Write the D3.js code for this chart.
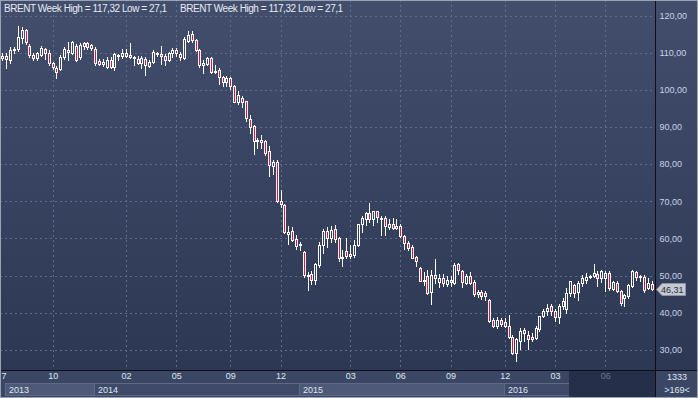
<!DOCTYPE html>
<html>
<head>
<meta charset="utf-8">
<title>brent weekly candles</title>
<style>
  body { margin: 0; background: #2d3854; }
  svg { display: block; }
  text { font-family: "Liberation Sans", Arial, sans-serif; }
</style>
</head>
<body>
<svg id="chart"></svg>
<script src="https://d3js.org/d3.v7.min.js"></script>
<script>
// weekly bars, oldest first (Jul 2013 .. Sep 2016)
let open = [108.6,109.1,108.0,110.6,111.0,113.9,116.1,111.9,109.4,108.5,
  109.5,110.9,110.0,107.2,105.8,105.6,108.9,110.2,110.0,111.8,
  108.9,111.8,112.5,111.2,110.9,107.8,106.9,106.2,108.0,106.2,
  109.0,109.0,109.2,109.4,108.9,108.3,107.1,108.3,106.5,107.4,
  109.8,109.6,109.2,108.0,109.8,110.7,109.6,108.5,113.2,114.9,
  113.4,110.7,106.7,106.9,108.5,104.7,105.4,103.4,102.2,103.1,
  100.9,96.8,97.9,97.0,92.1,90.3,86.1,86.0,86.1,83.6,
  79.6,80.5,70.0,69.1,61.1,62.1,59.8,58.6,56.2,49.8,
  50.4,48.7,52.9,58.3,61.9,60.1,62.6,60.1,54.7,56.5,
  55.9,55.6,58.3,63.9,65.3,66.8,65.3,67.3,65.3,65.5,
  63.1,63.9,62.9,63.2,60.6,58.8,57.8,54.9,52.0,48.9,
  49.8,45.5,50.2,48.2,49.3,47.8,48.2,48.0,53.0,51.1,
  48.0,49.8,48.2,44.9,45.5,45.3,43.5,38.1,36.5,38.1,
  37.5,36.5,33.5,29.2,32.3,35.3,34.1,33.4,33.2,35.5,
  39.0,40.4,41.7,40.4,38.7,41.7,40.9,45.3,47.4,45.6,
  48.0,48.8,49.5,49.8,50.4,49.2,49.2,50.7,46.5,48.0,
  45.8,44.0,44.4,47.1,51.0,49.5,49.5,46.7,47.7];
let high = [109.8,109.8,111.5,111.4,117.3,116.8,116.4,112.3,109.9,110.3,
  111.8,111.3,110.6,107.6,106.3,109.3,111.4,113.0,113.2,112.3,
  112.6,112.9,112.8,112.4,111.4,108.3,108.2,108.7,108.7,109.8,
  109.6,111.0,111.0,112.5,109.0,109.0,109.0,108.7,108.0,110.7,
  110.3,111.9,109.6,110.3,111.2,111.2,110.1,114.1,115.8,115.8,
  113.7,111.0,107.9,108.7,108.7,106.8,106.0,103.8,103.6,103.5,
  101.2,99.6,98.2,97.1,93.3,90.6,87.1,87.8,86.5,84.8,
  81.2,81.0,73.1,69.2,63.4,63.1,60.8,59.1,56.6,51.0,
  51.2,53.4,59.0,62.6,63.0,63.3,63.6,60.5,57.0,60.0,
  58.1,59.6,64.0,66.0,67.1,69.6,67.3,67.5,65.9,66.0,
  65.1,65.6,65.1,63.9,60.8,59.3,58.3,55.2,52.3,50.9,
  51.4,51.4,54.5,50.5,50.5,49.8,49.8,53.5,53.4,51.4,
  50.5,50.9,48.9,46.2,46.2,45.8,43.7,38.6,38.8,38.6,
  38.6,39.5,34.1,33.2,35.9,35.9,35.1,34.4,36.3,39.2,
  41.0,42.3,42.3,41.0,42.3,44.0,46.6,48.6,47.7,48.5,
  50.1,50.7,50.2,53.1,51.3,51.6,51.1,51.1,48.6,48.5,
  46.2,45.0,47.7,51.6,51.3,50.2,50.1,49.3,48.5];
let low = [108.0,105.9,107.3,109.8,110.4,112.5,112.4,108.9,108.0,107.9,
  109.1,108.4,106.8,105.6,103.1,105.2,108.2,108.0,109.6,107.7,
  108.4,111.0,110.9,110.6,106.8,106.6,106.3,105.8,106.0,105.4,
  108.0,108.5,108.7,108.6,106.7,106.9,105.8,104.0,106.2,107.1,
  109.0,106.9,106.7,107.8,108.7,109.2,108.0,108.3,112.8,112.9,
  110.5,106.2,104.5,106.7,104.5,104.4,101.6,101.0,101.0,100.2,
  96.6,96.3,95.5,91.7,88.3,82.6,84.2,84.3,82.4,76.7,
  77.3,69.8,68.5,61.4,58.4,59.2,57.1,57.0,49.6,46.2,
  47.7,47.6,52.2,56.0,57.8,59.0,59.0,53.9,52.5,54.7,
  54.6,55.0,57.9,61.6,63.7,64.4,63.7,64.4,61.0,61.0,
  62.5,62.5,62.5,60.3,57.2,56.8,54.6,52.5,48.5,47.5,
  44.9,42.2,48.0,46.9,47.1,47.3,47.3,47.6,50.5,47.0,
  47.6,47.6,44.4,44.2,43.7,43.5,37.4,36.2,36.0,36.3,
  36.2,33.2,28.8,27.1,30.1,32.5,30.1,32.5,32.8,35.0,
  38.8,39.5,39.5,37.8,37.3,40.9,39.9,44.4,44.2,43.3,
  47.1,48.0,49.2,49.5,47.1,48.3,45.8,46.2,46.2,45.6,
  42.0,41.7,44.0,46.8,48.9,48.4,45.6,46.5,46.2];
let close = [109.2,108.2,110.7,111.1,114.2,116.1,113.0,109.4,108.6,109.8,
  111.2,110.0,107.2,106.1,104.9,108.9,110.9,110.8,112.9,108.0,
  112.1,112.5,111.4,112.0,107.2,107.0,107.6,108.0,106.2,109.6,
  109.4,109.8,109.8,108.8,108.5,107.1,108.5,106.7,107.4,110.1,
  109.6,109.2,108.0,109.8,110.7,109.8,108.7,113.7,114.8,113.4,
  110.7,106.7,107.1,108.5,104.9,105.0,103.4,102.0,103.1,100.9,
  96.8,98.6,96.8,92.4,89.9,86.1,86.6,86.5,83.1,79.8,
  80.6,70.0,69.2,61.6,61.8,59.5,58.0,58.2,50.2,50.2,
  48.7,53.2,58.3,61.9,60.1,62.3,59.7,54.7,55.0,55.2,
  55.2,58.3,63.9,65.5,66.8,65.3,67.3,65.8,65.6,63.2,
  63.9,62.9,63.4,60.6,58.8,57.4,54.7,53.8,48.6,48.4,
  45.3,50.2,49.3,49.3,48.0,48.7,48.9,52.9,51.6,48.2,
  49.8,48.0,44.9,45.5,44.6,44.6,37.7,36.5,38.1,37.0,
  36.5,33.5,29.2,32.8,35.0,34.4,32.9,32.8,35.9,39.0,
  40.4,41.2,40.4,38.7,41.9,43.1,45.3,48.5,45.3,48.0,
  49.2,49.5,50.0,50.7,49.2,51.1,50.7,46.7,48.3,45.8,
  42.6,44.7,47.4,51.1,49.5,49.9,46.0,48.0,46.31];

let priceTicks = [30, 40, 50, 60, 70, 80, 90, 100, 110, 120];
let monthLabels = ["7", "10", "02", "05", "09", "12", "03", "06", "09", "12", "03", "06"];
let monthBars = [0.3, 13, 32, 45, 59, 72, 90, 103, 116, 130, 143, 156];
let yearLabels = ["2013", "2014", "2015", "2016"];
let yearBars = [1, 24, 77, 130];
let titleText = "BRENT Week High = 117,32 Low = 27,1";
let lastPrice = 46.31;
let barCount = "1333", visibleBars = ">169<";

let width = 698, height = 398;
let plotRight = 655, plotBottom = 370;
let fmt = d => d3.format(".2f")(d).replace(".", ",");

let svg = d3.select("#chart").attr("width", width).attr("height", height);

let defs = svg.append("defs");
let grad = defs.append("linearGradient").attr("id", "bg")
    .attr("x1", 0).attr("y1", 0).attr("x2", 0).attr("y2", 1);
grad.append("stop").attr("offset", "0%").attr("stop-color", "#424e6c");
grad.append("stop").attr("offset", "100%").attr("stop-color", "#2b3652");
svg.append("rect").attr("width", width).attr("height", height).attr("fill", "url(#bg)");

let x = d3.scaleLinear().domain([0, open.length - 1]).range([2.4, 651.5]);
let y = d3.scaleLinear().domain([30, 120]).range([349.8, 15.5]);

// grid
let grid = svg.append("g").attr("stroke", "#5f6d8c").attr("stroke-dasharray", "2,3");
grid.selectAll(".h").data(priceTicks).join("line")
    .attr("x1", 0).attr("x2", plotRight)
    .attr("y1", d => Math.round(y(d)) + 0.5).attr("y2", d => Math.round(y(d)) + 0.5);
grid.selectAll(".v").data(monthBars.filter(b => b >= 1)).join("line")
    .attr("y1", 0).attr("y2", plotBottom)
    .attr("x1", d => Math.round(x(d)) + 0.5).attr("x2", d => Math.round(x(d)) + 0.5);

// candles
let candles = svg.append("g").selectAll("g").data(d3.range(open.length)).join("g");
candles.each(function(i) {
    let g = d3.select(this);
    let cx = Math.round(x(i));
    let top = Math.round(y(Math.max(open[i], close[i])));
    let bot = Math.round(y(Math.min(open[i], close[i])));
    if (bot - top < 1) bot = top + 1;
    g.append("line").attr("x1", cx + 0.5).attr("x2", cx + 0.5)
        .attr("y1", Math.round(y(high[i]))).attr("y2", top)
        .attr("stroke", "#ffffff");
    g.append("line").attr("x1", cx + 0.5).attr("x2", cx + 0.5)
        .attr("y1", bot + 1).attr("y2", Math.round(y(low[i])) + 1)
        .attr("stroke", "#ffffff");
    g.append("rect").attr("x", cx - 0.5).attr("y", top + 0.5)
        .attr("width", 2).attr("height", bot - top)
        .attr("fill", close[i] >= open[i] ? "none" : "#dc143c")
        .attr("stroke", "#ffffff");
});

// header
svg.selectAll(".title").data([4, 180]).join("text")
    .attr("x", d => d).attr("y", 12)
    .attr("fill", "#e6ebf4").attr("font-size", 10).attr("letter-spacing", -0.45)
    .text(titleText);

// bottom axis panel
let axisBg = svg.append("g");
axisBg.append("rect").attr("x", 0).attr("y", plotBottom).attr("width", width).attr("height", height - plotBottom)
    .attr("fill", "#3a4664");
let years = svg.append("g");
yearLabels.forEach((lab, i) => {
    let x0 = Math.round(x(yearBars[i])) - 1;
    let x1 = i < yearLabels.length - 1 ? Math.round(x(yearBars[i + 1])) - 1 : plotRight;
    years.append("rect").attr("x", x0 + 0.5).attr("y", 383.5).attr("width", x1 - x0).attr("height", 12)
        .attr("fill", i % 2 === 0 ? "#4d5976" : "#3e4a68").attr("stroke", "#5d6985");
    years.append("text").attr("x", x0 + 4).attr("y", 393)
        .attr("fill", "#dfe6f2").attr("font-size", 9).text(lab);
});
svg.append("rect").attr("x", Math.round(x(147)) - 1).attr("y", plotBottom + 1)
    .attr("width", plotRight - Math.round(x(147)) + 1).attr("height", height - plotBottom - 2)
    .attr("fill", "#262f49");

let xAxis = svg.append("g").attr("transform", "translate(0," + (plotBottom + 1) + ")")
    .call(d3.axisBottom(x).tickValues(monthBars).tickSize(0).tickPadding(2)
        .tickFormat((d, i) => monthLabels[i]));
xAxis.select(".domain").remove();
xAxis.attr("font-family", null).attr("font-size", 9);
xAxis.selectAll("text").attr("fill", d => d > 146 ? "#69758f" : "#dfe6f2");

// right axis
let yAxis = svg.append("g").attr("transform", "translate(657,0)")
    .call(d3.axisRight(y).tickValues(priceTicks).tickSize(0).tickPadding(2.5).tickFormat(fmt));
yAxis.select(".domain").remove();
yAxis.attr("font-family", null).attr("font-size", 9);
yAxis.selectAll("text").attr("fill", "#c9d3e8");

// frame lines
svg.append("line").attr("x1", plotRight + 0.5).attr("x2", plotRight + 0.5).attr("y1", 0).attr("y2", height)
    .attr("stroke", "#0c0f18");
svg.append("line").attr("x1", 0).attr("x2", width).attr("y1", plotBottom + 0.5).attr("y2", plotBottom + 0.5)
    .attr("stroke", "#0c0f18");

// last price tag
let ly = Math.round(y(lastPrice)) + 0.5;
svg.append("path")
    .attr("d", "M" + (plotRight + 1.5) + "," + ly + " L" + (plotRight + 7) + "," + (ly - 6) +
        " L685.5," + (ly - 6) + " L685.5," + (ly + 6) + " L" + (plotRight + 7) + "," + (ly + 6) + "Z")
    .attr("fill", "#c5c9d1").attr("stroke", "#8e94a0");
svg.append("text").attr("x", 661).attr("y", ly + 3.5)
    .attr("fill", "#2a3140").attr("font-size", 9).text(fmt(lastPrice));

// bottom right counters
svg.append("text").attr("x", 677).attr("y", 380).attr("text-anchor", "middle")
    .attr("fill", "#dfe6f2").attr("font-size", 9).text(barCount);
svg.append("text").attr("x", 677).attr("y", 393).attr("text-anchor", "middle")
    .attr("fill", "#dfe6f2").attr("font-size", 9).text(visibleBars);

svg.append("rect").attr("x", 0.5).attr("y", 0.5).attr("width", width - 1).attr("height", height - 1)
    .attr("fill", "none").attr("stroke", "#9aa3b4");
</script>
</body>
</html>
